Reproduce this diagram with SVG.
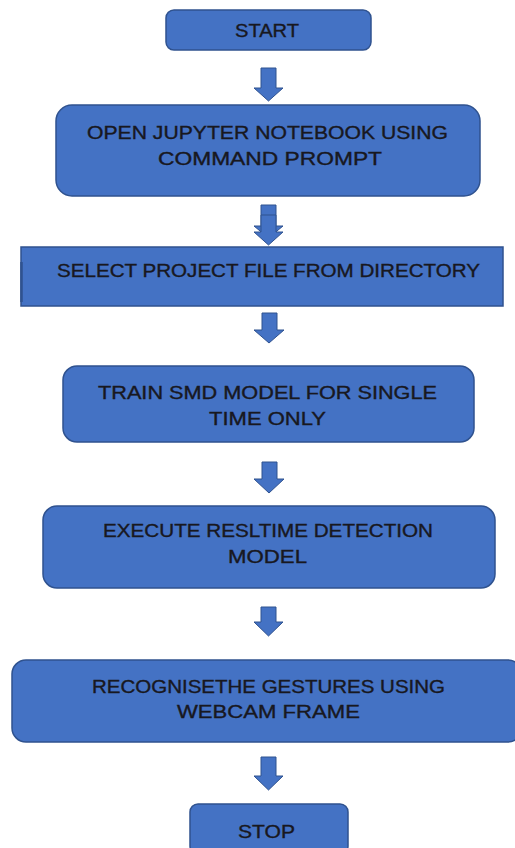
<svg xmlns="http://www.w3.org/2000/svg" width="515" height="848" viewBox="0 0 515 848">
<style>
.box{fill:#4472C4;stroke:#2F528F;stroke-width:1.5}
.arr{fill:#4472C4;stroke:#2F528F;stroke-width:1}
.t{font-family:"Liberation Sans",Arial,sans-serif;font-size:17.5px;fill:#18181f;stroke:#18181f;stroke-width:0.35}
</style>
<rect width="515" height="848" fill="#ffffff"/>
<g id="start"><rect class="box" x="166" y="10" width="205" height="40" rx="8"/><text class="t" x="235" y="37" textLength="64" lengthAdjust="spacingAndGlyphs">START</text></g>
<g id="open"><rect class="box" x="56" y="105" width="424" height="91" rx="16"/><text class="t" x="87" y="139" textLength="361" lengthAdjust="spacingAndGlyphs">OPEN JUPYTER NOTEBOOK USING</text><text class="t" x="158" y="165" textLength="224" lengthAdjust="spacingAndGlyphs">COMMAND PROMPT</text></g>
<g id="select"><rect class="box" x="21" y="247" width="482" height="59"/><line x1="21.5" y1="262" x2="21.5" y2="302" stroke="#2F528F" stroke-width="2.5"/><text class="t" x="57" y="277" textLength="423" lengthAdjust="spacingAndGlyphs">SELECT PROJECT FILE FROM DIRECTORY</text></g>
<g id="train"><rect class="box" x="63" y="366" width="411" height="76" rx="14"/><text class="t" x="98" y="399" textLength="339" lengthAdjust="spacingAndGlyphs">TRAIN SMD MODEL FOR SINGLE</text><text class="t" x="209" y="425" textLength="117" lengthAdjust="spacingAndGlyphs">TIME ONLY</text></g>
<g id="execute"><rect class="box" x="43" y="506" width="452" height="82" rx="14"/><text class="t" x="103" y="537" textLength="330" lengthAdjust="spacingAndGlyphs">EXECUTE RESLTIME DETECTION</text><text class="t" x="228" y="563" textLength="79" lengthAdjust="spacingAndGlyphs">MODEL</text></g>
<g id="recognise"><rect class="box" x="12" y="660" width="510" height="82" rx="14"/><text class="t" x="92" y="693" textLength="353" lengthAdjust="spacingAndGlyphs">RECOGNISETHE  GESTURES  USING</text><text class="t" x="177" y="718" textLength="183" lengthAdjust="spacingAndGlyphs">WEBCAM FRAME</text></g>
<g id="stop"><rect class="box" x="190" y="804" width="158" height="50" rx="8"/><text class="t" x="238" y="838" textLength="57" lengthAdjust="spacingAndGlyphs">STOP</text></g>
<g id="connectors">
<path class="arr" d="M261 68H276V88H283L268.5 101L254 88H261Z"/>
<path class="arr" d="M261 205H276V226H283L268.5 238L254 226H261Z"/>
<path class="arr" d="M261 215H276V232H283L268.5 245L254 232H261Z"/>
<path class="arr" d="M262 313H277V330H284L269 343L254 330H262Z"/>
<path class="arr" d="M262 462H277V479H284L269 493L254 479H262Z"/>
<path class="arr" d="M261 607H276V622H283L268.5 636L254 622H261Z"/>
<path class="arr" d="M261 757H276V776H283L268.5 790L254 776H261Z"/>
</g>
</svg>
